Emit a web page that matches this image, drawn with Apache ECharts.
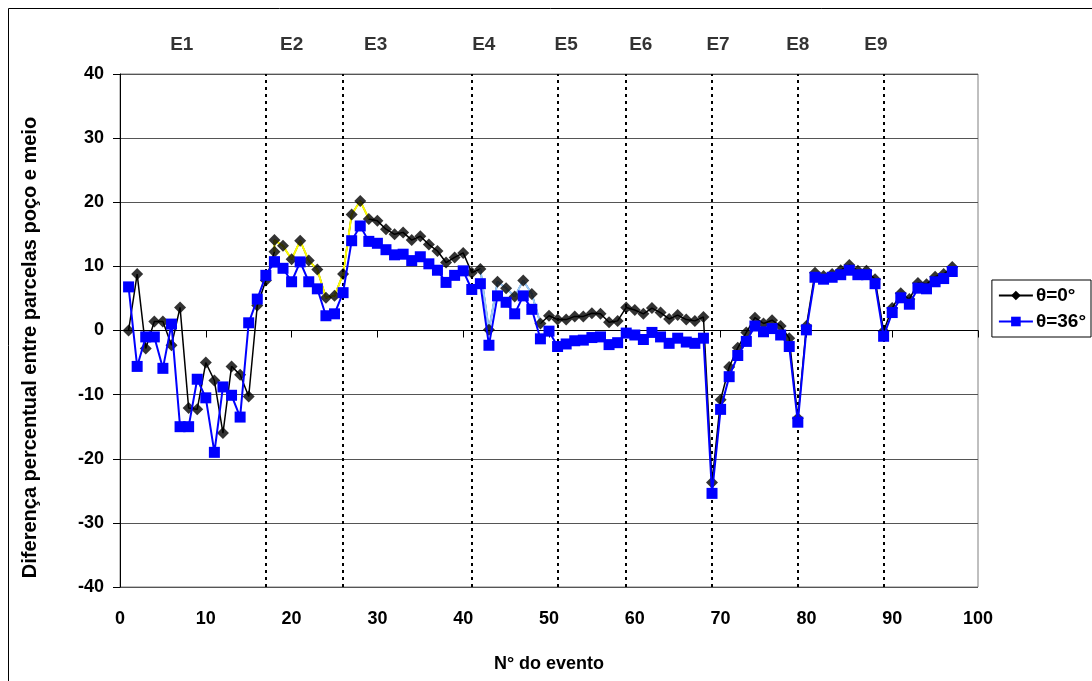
<!DOCTYPE html>
<html>
<head>
<meta charset="utf-8">
<script src="https://cdn.jsdelivr.net/npm/echarts@6/dist/echarts.min.js"></script>
<style>
  html, body { margin: 0; padding: 0; background: #fff; }
  #chart { width: 1092px; height: 681px; }
</style>
</head>
<body>
<div id="chart"></div>
<script>
// Event numbers (event 18 carries two readings for θ=0°)
const events = [1,2,3,4,5,6,7,8,9,10,11,12,13,14,15,16,17,18,18,19,20,
  21,22,23,24,25,26,27,28,29,30,31,32,33,34,35,36,37,38,39,40,
  41,42,43,44,45,46,47,48,49,50,51,52,53,54,55,56,57,58,59,60,
  61,62,63,64,65,66,67,68,69,70,71,72,73,74,75,76,77,78,79,80,
  81,82,83,84,85,86,87,88,89,90,91,92,93,94,95,96,97];

// Percent difference, θ = 0°
const theta0 = [0.0,8.8,-2.8,1.4,1.4,-2.3,3.6,-12.1,-12.3,-5.0,-7.8,-16.0,-5.6,-6.9,-10.3,3.9,7.8,12.3,14.1,13.2,11.1,
  14.0,10.9,9.5,5.1,5.4,8.8,18.1,20.2,17.4,17.1,15.8,15.0,15.3,14.1,14.7,13.4,12.4,10.6,11.4,12.1,
  9.0,9.6,0.1,7.6,6.6,5.3,7.8,5.7,1.1,2.3,1.7,1.7,2.2,2.2,2.7,2.6,1.3,1.5,3.6,3.2,
  2.6,3.5,2.8,1.8,2.4,1.7,1.5,2.1,-23.7,-10.8,-5.7,-2.7,-0.3,2.0,1.1,1.6,0.7,-1.2,-13.7,0.7,
  9.0,8.5,8.8,9.4,10.2,9.3,9.3,8.0,-0.1,3.5,5.8,4.9,7.4,7.2,8.4,8.8,9.9];

// Percent difference, θ = 36°
const theta36 = [6.8,-5.6,-1.0,-1.0,-5.9,1.0,-15.0,-15.0,-7.6,-10.5,-19.0,-8.8,-10.1,-13.5,1.2,4.9,8.6,10.7,10.7,9.7,7.6,
  10.7,7.6,6.5,2.3,2.6,5.9,14.0,16.3,13.9,13.6,12.6,11.8,11.9,10.9,11.5,10.4,9.4,7.5,8.6,9.3,
  6.4,7.3,-2.3,5.4,4.4,2.6,5.4,3.3,-1.3,-0.1,-2.5,-2.1,-1.6,-1.5,-1.1,-1.0,-2.2,-1.9,-0.4,-0.7,
  -1.4,-0.3,-1.0,-2.0,-1.2,-1.8,-2.0,-1.2,-25.4,-12.3,-7.2,-3.9,-1.7,0.7,-0.2,0.3,-0.7,-2.5,-14.3,0.1,
  8.3,8.0,8.3,8.7,9.4,8.7,8.7,7.3,-0.9,2.8,5.1,4.1,6.6,6.5,7.6,8.1,9.2];

// Boundaries between experiment groups and the group names
const boundaries = [17, 26, 41, 51, 59, 69, 79, 89];
const groupNames = ['E1','E2','E3','E4','E5','E6','E7','E8','E9'];
const groupNameAt = [7.2, 20, 29.8, 42.4, 52, 60.7, 69.7, 79, 88.1];

const xTicks = [0,10,20,30,40,50,60,70,80,90,100];
const yTicks = [-40,-30,-20,-10,0,10,20,30,40];

const FONT = "'Liberation Sans', Arial, Helvetica, sans-serif";
const pairs = (ys) => events.map((e, i) => [e, ys[i]]);
const span = (ys, a, b) => pairs(ys).filter(p => p[0] >= a && p[0] <= b);

const chart = echarts.init(document.getElementById('chart'), null, { renderer: 'canvas' });

chart.setOption({
  animation: false,
  backgroundColor: '#ffffff',
  textStyle: { fontFamily: FONT },
  grid: {
    left: 120, right: 114, top: 74, bottom: 94,
    show: true, borderColor: '#808080', borderWidth: 1, backgroundColor: 'transparent'
  },
  graphic: [{
    type: 'rect', silent: true, z: -1,
    shape: { x: 8.5, y: 8.5, width: 1100, height: 700 },
    style: { fill: 'none', stroke: '#000', lineWidth: 1 }
  }],
  legend: {
    orient: 'vertical',
    right: 1, top: 280,
    data: ['θ=0°', 'θ=36°'],
    borderColor: '#000', borderWidth: 1,
    padding: [6, 5, 6, 6],
    itemGap: 7, itemWidth: 34, itemHeight: 12,
    textStyle: { fontFamily: FONT, fontWeight: 'bold', fontSize: 19, color: '#000', padding: [0, 0, 0, -2] }
  },
  xAxis: {
    type: 'value', min: xTicks[0], max: xTicks[xTicks.length - 1], interval: 10,
    name: 'N° do evento', nameLocation: 'middle', nameGap: 68,
    nameTextStyle: { fontFamily: FONT, fontWeight: 'bold', fontSize: 18, color: '#000' },
    axisLine: { lineStyle: { color: '#000', width: 1 } },
    axisTick: { show: true, inside: false, length: 7, lineStyle: { color: '#000' } },
    axisLabel: { margin: 23, fontFamily: FONT, fontWeight: 'bold', fontSize: 18, color: '#000' },
    splitLine: { show: false }
  },
  yAxis: {
    type: 'value', min: yTicks[0], max: yTicks[yTicks.length - 1], interval: 10,
    name: 'Diferença percentual entre parcelas poço e meio',
    nameLocation: 'middle', nameGap: 80, nameRotate: 90,
    nameTextStyle: { fontFamily: FONT, fontWeight: 'bold', fontSize: 20, color: '#000', padding: [0, 34, 0, 0] },
    axisLine: { show: true, lineStyle: { color: '#000', width: 1 } },
    axisTick: { show: true, inside: false, length: 7, lineStyle: { color: '#000' } },
    axisLabel: { margin: 16, fontFamily: FONT, fontWeight: 'bold', fontSize: 18, color: '#000' },
    splitLine: { show: true, lineStyle: { color: '#555', width: 1 } }
  },
  series: [
    {
      name: 'θ=0°', type: 'line', z: 2,
      data: pairs(theta0),
      symbol: 'diamond', symbolSize: 12, showSymbol: false,
      itemStyle: { color: '#000' },
      lineStyle: { color: '#000', width: 1.5 },
      markLine: {
        silent: true, symbol: 'none', animation: false,
        label: { show: false },
        lineStyle: { color: '#000', width: 2, type: [3, 4] },
        data: boundaries.map(b => ({ xAxis: b }))
      }
    },
    {
      name: 'seg-a', type: 'line', z: 3, silent: true,
      data: span(theta0, 18, 29),
      symbol: 'none',
      lineStyle: { color: '#ffff00', width: 2 }
    },
    {
      name: 'seg-b', type: 'line', z: 3, silent: true,
      data: span(theta0, 42, 49),
      symbol: 'none',
      lineStyle: { color: '#99ccff', width: 2 }
    },
    {
      name: 'marks-0', type: 'scatter', z: 4, silent: true,
      data: pairs(theta0),
      symbol: 'diamond', symbolSize: 12,
      itemStyle: { color: '#000' }
    },
    {
      name: 'θ=36°', type: 'line', z: 5,
      data: pairs(theta36),
      symbol: 'rect', symbolSize: 11, showSymbol: true,
      itemStyle: { color: '#0000ff' },
      lineStyle: { color: '#0000ff', width: 2 }
    },
    {
      name: 'groups', type: 'scatter', z: 6, silent: true, clip: false,
      data: groupNames.map((n, i) => ({ name: n, value: [groupNameAt[i], 44.6] })),
      symbol: 'circle', symbolSize: 1,
      itemStyle: { color: 'transparent' },
      label: {
        show: true, position: 'inside', formatter: '{b}',
        fontFamily: FONT, fontWeight: 'bold', fontSize: 19, color: '#000'
      }
    }
  ]
});
</script>
</body>
</html>
